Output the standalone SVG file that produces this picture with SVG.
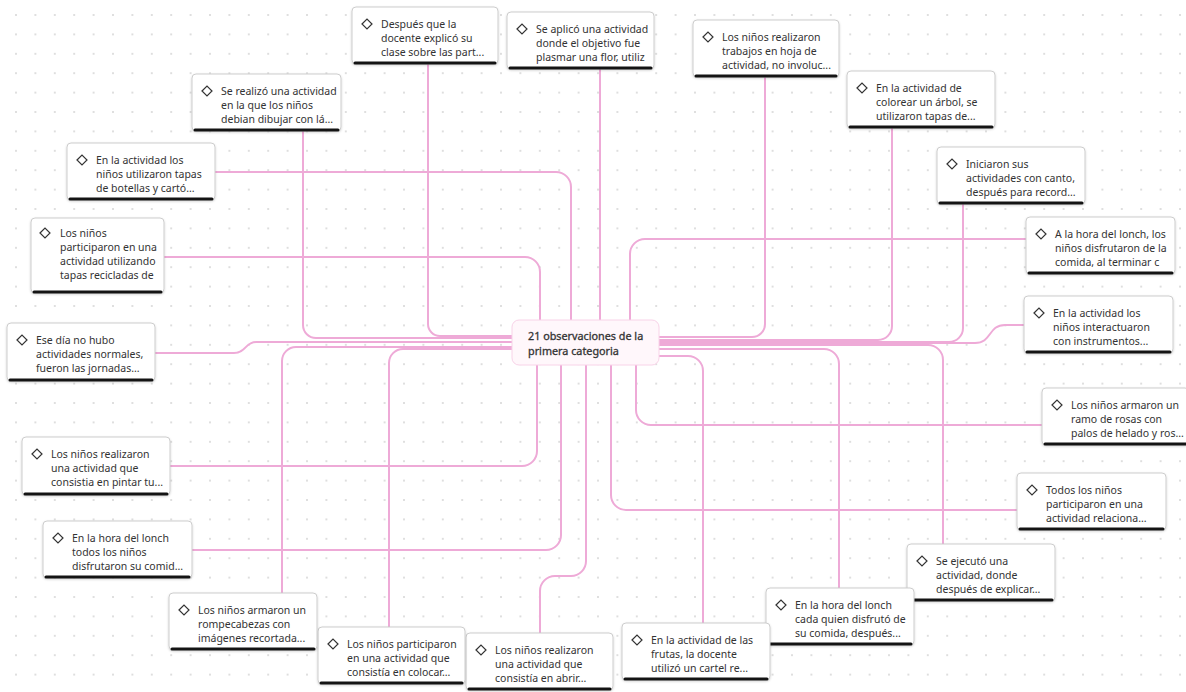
<svg xmlns="http://www.w3.org/2000/svg" width="1186" height="692" viewBox="0 0 1186 692">
<defs>
<pattern id="dots" x="6.3" y="5.3" width="19.4" height="19.4" patternUnits="userSpaceOnUse">
<circle cx="9.7" cy="9.7" r="0.9" fill="#cfcfcf"/>
</pattern>
<filter id="sh" x="-10%" y="-10%" width="120%" height="130%">
<feDropShadow dx="0" dy="1" stdDeviation="1.2" flood-color="#000" flood-opacity="0.18"/>
</filter>
<path id="dia" d="M-5,0 L0,-5 L5,0 L0,5 Z"/>
</defs>
<style>
.box{fill:#fff;stroke:#cdcdcd;stroke-width:1;filter:url(#sh)}
.bar{fill:#141414}
.ic{fill:none;stroke:#333;stroke-width:1.2}
.t{font-family:"Noto Sans","Open Sans","DejaVu Sans",sans-serif;font-size:10.5px;fill:#333}
.c{fill:none;stroke:#eeaad7;stroke-width:2}
.ct{font-family:"Noto Sans","Open Sans","DejaVu Sans",sans-serif;font-size:10.8px;fill:#333;stroke:#333;stroke-width:0.3}
</style>
<rect width="1186" height="692" fill="#fff"/>
<rect width="1186" height="692" fill="url(#dots)"/>

<g id="connectors">
<path class="c" d="M512,336 H440 A12,12 0 0 1 428,324 V64"/>
<path class="c" d="M512,338 H316 A13,13 0 0 1 303,325 V131"/>
<path class="c" d="M512,342 H256 C245,342 246,353 234,353 H155"/>
<path class="c" d="M512,347 H296 A14,14 0 0 0 282,361 V593"/>
<path class="c" d="M512,349 H403 A14,14 0 0 0 389,363 V627"/>
<path class="c" d="M540,320 V272 A15,15 0 0 0 525,257 H164"/>
<path class="c" d="M571,320 V187 A15,15 0 0 0 556,172 H215"/>
<path class="c" d="M600,320 V69"/>
<path class="c" d="M630,320 V254 A15,15 0 0 1 645,239 H1026"/>
<path class="c" d="M659,337 H752 A13,13 0 0 0 765,324 V77"/>
<path class="c" d="M659,340 H878 A14,14 0 0 0 892,326 V128"/>
<path class="c" d="M659,342 H949 A14,14 0 0 0 963,328 V204"/>
<path class="c" d="M659,343 H975 C992,343 988,325 1005,325 H1024"/>
<path class="c" d="M659,345 H928 A15,15 0 0 1 943,360 V544"/>
<path class="c" d="M659,349 H824 A15,15 0 0 1 839,364 V588"/>
<path class="c" d="M659,356 H688 A15,15 0 0 1 703,371 V623"/>
<path class="c" d="M537,365 V451 A15,15 0 0 1 522,466 H170"/>
<path class="c" d="M561,365 V535 A15,15 0 0 1 546,550 H192"/>
<path class="c" d="M586,365 V561 A15,15 0 0 1 571,576 H555 A15,15 0 0 0 540,591 V633"/>
<path class="c" d="M611,365 V495 A15,15 0 0 0 626,510 H1017"/>
<path class="c" d="M636,365 V410 A15,15 0 0 0 651,425 H1042"/>
</g>

<g id="center">
<rect x="512" y="320" width="147" height="45" rx="7" fill="#fff7fb" stroke="#f8d3e8" stroke-width="1"/>
<text class="ct" x="528" y="340">21 observaciones de la</text>
<text class="ct" x="528" y="355">primera categoria</text>
</g>

<g id="n1">
<rect class="box" x="352" y="7" width="146" height="57" rx="4"/>
<rect class="bar" x="353.5" y="61.5" width="143" height="3" rx="1.5"/>
<use href="#dia" class="ic" x="367" y="24"/>
<text class="t" x="381" y="28">Después que la</text>
<text class="t" x="381" y="42">docente explicó su</text>
<text class="t" x="381" y="56">clase sobre las part...</text>
</g>

<g id="n2">
<rect class="box" x="507" y="12" width="147" height="57" rx="4"/>
<rect class="bar" x="508.5" y="66.5" width="144" height="3" rx="1.5"/>
<use href="#dia" class="ic" x="522" y="29"/>
<text class="t" x="536" y="33">Se aplicó una actividad</text>
<text class="t" x="536" y="47">donde el objetivo fue</text>
<text class="t" x="536" y="61">plasmar una flor, utiliz</text>
</g>

<g id="n3">
<rect class="box" x="693" y="20" width="146" height="57" rx="4"/>
<rect class="bar" x="694.5" y="74.5" width="143" height="3" rx="1.5"/>
<use href="#dia" class="ic" x="708" y="37"/>
<text class="t" x="722" y="41">Los niños realizaron</text>
<text class="t" x="722" y="55">trabajos en hoja de</text>
<text class="t" x="722" y="69">actividad, no involuc...</text>
</g>

<g id="n4">
<rect class="box" x="847" y="71" width="148" height="57" rx="4"/>
<rect class="bar" x="848.5" y="125.5" width="145" height="3" rx="1.5"/>
<use href="#dia" class="ic" x="862" y="88"/>
<text class="t" x="876" y="92">En la actividad de</text>
<text class="t" x="876" y="106">colorear un árbol, se</text>
<text class="t" x="876" y="120">utilizaron tapas de...</text>
</g>

<g id="n5">
<rect class="box" x="937" y="147" width="148" height="57" rx="4"/>
<rect class="bar" x="938.5" y="201.5" width="145" height="3" rx="1.5"/>
<use href="#dia" class="ic" x="952" y="164"/>
<text class="t" x="966" y="168">Iniciaron sus</text>
<text class="t" x="966" y="182">actividades con canto,</text>
<text class="t" x="966" y="196">después para record...</text>
</g>

<g id="n6">
<rect class="box" x="1026" y="217" width="149" height="57" rx="4"/>
<rect class="bar" x="1027.5" y="271.5" width="146" height="3" rx="1.5"/>
<use href="#dia" class="ic" x="1041" y="234"/>
<text class="t" x="1055" y="238">A la hora del lonch, los</text>
<text class="t" x="1055" y="252">niños disfrutaron de la</text>
<text class="t" x="1055" y="266">comida, al terminar c</text>
</g>

<g id="n7">
<rect class="box" x="1024" y="296" width="149" height="57" rx="4"/>
<rect class="bar" x="1025.5" y="350.5" width="146" height="3" rx="1.5"/>
<use href="#dia" class="ic" x="1039" y="313"/>
<text class="t" x="1053" y="317">En la actividad los</text>
<text class="t" x="1053" y="331">niños interactuaron</text>
<text class="t" x="1053" y="345">con instrumentos...</text>
</g>

<g id="n8">
<rect class="box" x="1042" y="388" width="147" height="57" rx="4"/>
<rect class="bar" x="1043.5" y="442.5" width="144" height="3" rx="1.5"/>
<use href="#dia" class="ic" x="1057" y="405"/>
<text class="t" x="1071" y="409">Los niños armaron un</text>
<text class="t" x="1071" y="423">ramo de rosas con</text>
<text class="t" x="1071" y="437">palos de helado y ros...</text>
</g>

<g id="n9">
<rect class="box" x="1017" y="473" width="149" height="57" rx="4"/>
<rect class="bar" x="1018.5" y="527.5" width="146" height="3" rx="1.5"/>
<use href="#dia" class="ic" x="1032" y="490"/>
<text class="t" x="1046" y="494">Todos los niños</text>
<text class="t" x="1046" y="508">participaron en una</text>
<text class="t" x="1046" y="522">actividad relaciona...</text>
</g>

<g id="n10">
<rect class="box" x="907" y="544" width="148" height="57" rx="4"/>
<rect class="bar" x="908.5" y="598.5" width="145" height="3" rx="1.5"/>
<use href="#dia" class="ic" x="922" y="561"/>
<text class="t" x="936" y="565">Se ejecutó una</text>
<text class="t" x="936" y="579">actividad, donde</text>
<text class="t" x="936" y="593">después de explicar...</text>
</g>

<g id="n11">
<rect class="box" x="766" y="588" width="148" height="57" rx="4"/>
<rect class="bar" x="767.5" y="642.5" width="145" height="3" rx="1.5"/>
<use href="#dia" class="ic" x="781" y="605"/>
<text class="t" x="795" y="609">En la hora del lonch</text>
<text class="t" x="795" y="623">cada quien disfrutó de</text>
<text class="t" x="795" y="637">su comida, después...</text>
</g>

<g id="n12">
<rect class="box" x="622" y="623" width="148" height="57" rx="4"/>
<rect class="bar" x="623.5" y="677.5" width="145" height="3" rx="1.5"/>
<use href="#dia" class="ic" x="637" y="640"/>
<text class="t" x="651" y="644">En la actividad de las</text>
<text class="t" x="651" y="658">frutas, la docente</text>
<text class="t" x="651" y="672">utilizó un cartel re...</text>
</g>

<g id="n13">
<rect class="box" x="466" y="633" width="147" height="57" rx="4"/>
<rect class="bar" x="467.5" y="687.5" width="144" height="3" rx="1.5"/>
<use href="#dia" class="ic" x="481" y="650"/>
<text class="t" x="495" y="654">Los niños realizaron</text>
<text class="t" x="495" y="668">una actividad que</text>
<text class="t" x="495" y="682">consistía en abrir...</text>
</g>

<g id="n14">
<rect class="box" x="318" y="627" width="147" height="57" rx="4"/>
<rect class="bar" x="319.5" y="681.5" width="144" height="3" rx="1.5"/>
<use href="#dia" class="ic" x="333" y="644"/>
<text class="t" x="347" y="648">Los niños participaron</text>
<text class="t" x="347" y="662">en una actividad que</text>
<text class="t" x="347" y="676">consistía en colocar...</text>
</g>

<g id="n15">
<rect class="box" x="169" y="593" width="148" height="57" rx="4"/>
<rect class="bar" x="170.5" y="647.5" width="145" height="3" rx="1.5"/>
<use href="#dia" class="ic" x="184" y="610"/>
<text class="t" x="198" y="614">Los niños armaron un</text>
<text class="t" x="198" y="628">rompecabezas con</text>
<text class="t" x="198" y="642">imágenes recortada...</text>
</g>

<g id="n16">
<rect class="box" x="43" y="521" width="149" height="57" rx="4"/>
<rect class="bar" x="44.5" y="575.5" width="146" height="3" rx="1.5"/>
<use href="#dia" class="ic" x="58" y="538"/>
<text class="t" x="72" y="542">En la hora del lonch</text>
<text class="t" x="72" y="556">todos los niños</text>
<text class="t" x="72" y="570">disfrutaron su comid...</text>
</g>

<g id="n17">
<rect class="box" x="22" y="437" width="148" height="58" rx="4"/>
<rect class="bar" x="23.5" y="492.5" width="145" height="3" rx="1.5"/>
<use href="#dia" class="ic" x="37" y="454"/>
<text class="t" x="51" y="458">Los niños realizaron</text>
<text class="t" x="51" y="472">una actividad que</text>
<text class="t" x="51" y="486">consistia en pintar tu...</text>
</g>

<g id="n18">
<rect class="box" x="7" y="323" width="148" height="58" rx="4"/>
<rect class="bar" x="8.5" y="378.5" width="145" height="3" rx="1.5"/>
<use href="#dia" class="ic" x="22" y="340"/>
<text class="t" x="36" y="344">Ese día no hubo</text>
<text class="t" x="36" y="358">actividades normales,</text>
<text class="t" x="36" y="372">fueron las jornadas...</text>
</g>

<g id="n19">
<rect class="box" x="31" y="218" width="133" height="75" rx="4"/>
<rect class="bar" x="32.5" y="290.5" width="130" height="3" rx="1.5"/>
<use href="#dia" class="ic" x="45" y="233"/>
<text class="t" x="60" y="237">Los niños</text>
<text class="t" x="60" y="251">participaron en una</text>
<text class="t" x="60" y="265">actividad utilizando</text>
<text class="t" x="60" y="279">tapas recicladas de</text>
</g>

<g id="n20">
<rect class="box" x="67" y="143" width="148" height="57" rx="4"/>
<rect class="bar" x="68.5" y="197.5" width="145" height="3" rx="1.5"/>
<use href="#dia" class="ic" x="82" y="160"/>
<text class="t" x="96" y="164">En la actividad los</text>
<text class="t" x="96" y="178">niños utilizaron tapas</text>
<text class="t" x="96" y="192">de botellas y cartó...</text>
</g>

<g id="n21">
<rect class="box" x="192" y="74" width="149" height="57" rx="4"/>
<rect class="bar" x="193.5" y="128.5" width="146" height="3" rx="1.5"/>
<use href="#dia" class="ic" x="207" y="91"/>
<text class="t" x="221" y="95">Se realizó una actividad</text>
<text class="t" x="221" y="109">en la que los niños</text>
<text class="t" x="221" y="123">debian dibujar con lá...</text>
</g>
</svg>
